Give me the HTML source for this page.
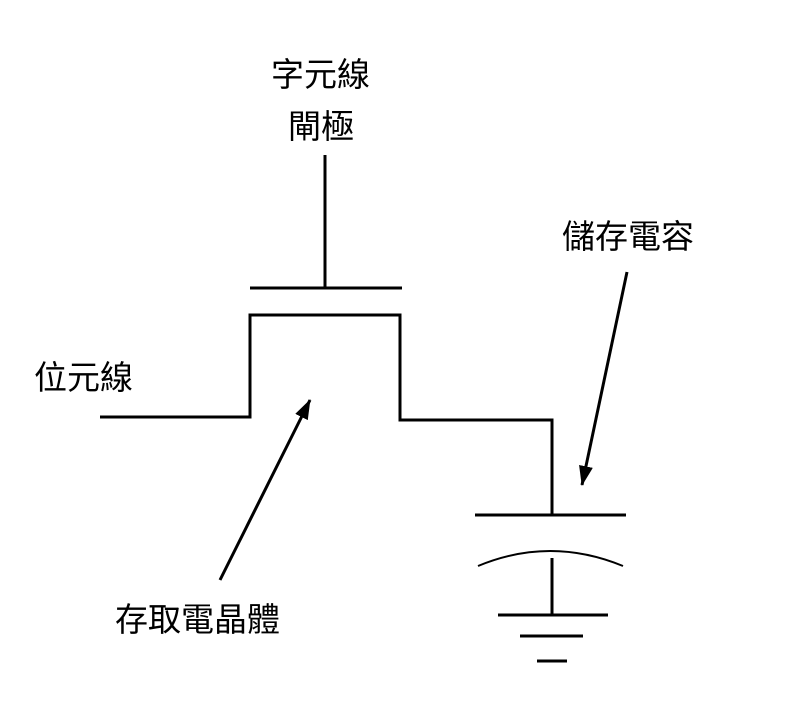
<!DOCTYPE html>
<html><head><meta charset="utf-8"><style>
body{margin:0;background:#fff;width:800px;height:712px;overflow:hidden}
text{font-family:"Liberation Sans","Noto Sans CJK TC",sans-serif;font-size:33px;fill:#000}
</style></head><body>
<svg width="800" height="712" viewBox="0 0 800 712" xmlns="http://www.w3.org/2000/svg">
<defs>
<marker id="b" viewBox="0 0 20 14" refX="19" refY="7" markerWidth="20" markerHeight="14" orient="auto" markerUnits="userSpaceOnUse"><path d="M0,0 L20,7 L0,14 z" fill="#000"/></marker></defs>
<g stroke="#000" stroke-width="3" fill="none">
<line x1="325" y1="155" x2="325" y2="288"/>
<line x1="250" y1="288" x2="402" y2="288"/>
<polyline points="100,417 250,417 250,315 400,315 400,420 552,420 552,515"/>
<line x1="475" y1="515" x2="626" y2="515"/>
<path d="M478,566 Q550,536 623,566" stroke-width="2"/>
<line x1="552" y1="558" x2="552" y2="615"/>
<line x1="498" y1="615" x2="608" y2="615"/>
<line x1="520" y1="636" x2="583" y2="636"/>
<line x1="537" y1="661" x2="567" y2="661"/>
<line x1="220" y1="580" x2="310" y2="400" marker-end="url(#b)"/>
<line x1="627" y1="272" x2="582" y2="485" marker-end="url(#b)"/>
</g>
<text x="271" y="86">字元線</text>
<text x="288" y="138">閘極</text>
<text x="34" y="389">位元線</text>
<text x="562" y="248">儲存電容</text>
<text x="115" y="631">存取電晶體</text>
</svg>
</body></html>
